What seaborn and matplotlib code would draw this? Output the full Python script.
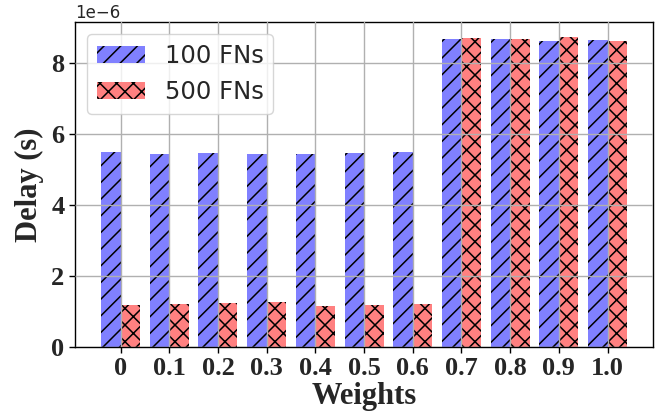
import matplotlib
matplotlib.use("Agg")
import matplotlib.pyplot as plt
import seaborn as sns
import pandas as pd

weights = ["0", "0.1", "0.2", "0.3", "0.4", "0.5", "0.6", "0.7", "0.8", "0.9", "1.0"]
delay_100 = [5.48e-6, 5.42e-6, 5.47e-6, 5.44e-6, 5.42e-6, 5.47e-6, 5.48e-6,
             8.68e-6, 8.67e-6, 8.63e-6, 8.65e-6]
delay_500 = [1.18e-6, 1.22e-6, 1.24e-6, 1.27e-6, 1.15e-6, 1.19e-6, 1.22e-6,
             8.69e-6, 8.68e-6, 8.72e-6, 8.63e-6]
series = ["100 FNs", "500 FNs"]
colors = ["#8080ff", "#ff8080"]
hatches = ["//", "xx"]

sns.set_theme(style="ticks")
plt.rcParams["font.family"] = ["DejaVu Sans"]
plt.rcParams["hatch.linewidth"] = 1.1

df = pd.DataFrame({
    "Weights": weights * 2,
    "Delay": delay_100 + delay_500,
    "Series": [series[0]] * len(weights) + [series[1]] * len(weights),
})

fig = plt.figure(figsize=(6.68, 4.2), dpi=100)
ax = fig.add_axes([0.112, 0.174, 0.866, 0.774])

sns.barplot(data=df, x="Weights", y="Delay", hue="Series", hue_order=series,
            palette=colors, saturation=1, width=0.8, legend=False, ax=ax,
            edgecolor="black", linewidth=0)

for cont, h in zip(ax.containers, hatches):
    for bar in cont:
        bar.set_hatch(h)
        bar.set_edgecolor("black")
        bar.set_linewidth(0)

ax.set_xlim(-0.94, 10.94)
ax.grid(True, color="#b0b0b0", linewidth=1.0)
ax.set_axisbelow(False)
for s in ax.spines.values():
    s.set_color("black")
    s.set_linewidth(1.0)

serif = ["Liberation Serif", "DejaVu Serif"]
ax.set_xlabel("Weights", fontsize=22, fontweight="bold", family=serif, labelpad=1)
ax.set_ylabel("Delay (s)", fontsize=22, fontweight="bold", family=serif, labelpad=5)
for lab in ax.get_xticklabels() + ax.get_yticklabels():
    lab.set_fontsize(19)
    lab.set_fontweight("bold")
    lab.set_family(serif)
ax.tick_params(axis="both", length=4, width=1, color="black")
ax.yaxis.get_offset_text().set_fontsize(12)

leg = ax.legend(ax.containers, series, loc="upper left", fontsize=17.5,
                frameon=True, fancybox=True, framealpha=0.8)
leg.get_frame().set_edgecolor("#cccccc")

fig.savefig("out.png", dpi=100)
